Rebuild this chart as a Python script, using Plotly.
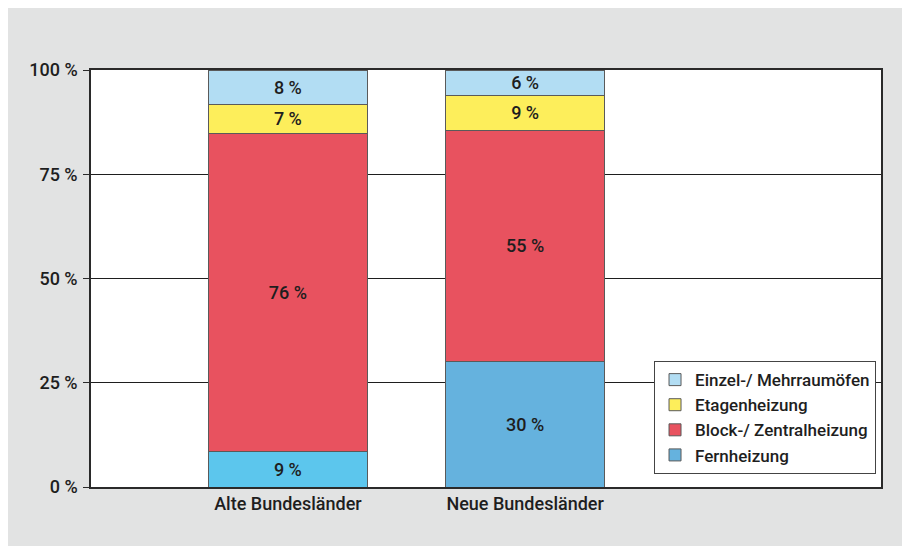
import plotly.graph_objects as go

regionen = ["Alte Bundesländer", "Neue Bundesländer"]

fernheizung = [8.5, 30.0]
block_zentral = [76.2, 55.6]
etagenheizung = [7.1, 8.4]
einzelofen = [8.2, 6.0]

fern_text = ["9 %", "30 %"]
block_text = ["76 %", "55 %"]
etagen_text = ["7 %", "9 %"]
einzel_text = ["8 %", "6 %"]

y_ticks = [0, 25, 50, 75, 100]
y_ticktext = ["0 %", "25 %", "50 %", "75 %", "100 %"]

farben = {
    "fern_alt": "#5cc6ed",
    "fern": "#65b2de",
    "block": "#e8525f",
    "etage": "#fdee5b",
    "einzel": "#b2ddf3",
}

schrift = dict(family="Roboto, Arial, sans-serif", size=18, color="#1e1e1e", weight=500)
linie = dict(color="#5a5a5a", width=1)

fig = go.Figure()

# Fernheizung: Alte Bundesländer in hellerem Blau
fig.add_trace(go.Bar(
    x=regionen[:1], y=fernheizung[:1], text=fern_text[:1],
    name="Fernheizung", legendgroup="fern", showlegend=False,
    marker=dict(color=farben["fern_alt"], line=linie), width=0.67,
))
fig.add_trace(go.Bar(
    x=regionen[1:], y=fernheizung[1:], text=fern_text[1:],
    name="Fernheizung", legendgroup="fern",
    marker=dict(color=farben["fern"], line=linie), width=0.67,
))
fig.add_trace(go.Bar(
    x=regionen, y=block_zentral, text=block_text,
    name="Block-/ Zentralheizung",
    marker=dict(color=farben["block"], line=linie), width=0.67,
))
fig.add_trace(go.Bar(
    x=regionen, y=etagenheizung, text=etagen_text,
    name="Etagenheizung",
    marker=dict(color=farben["etage"], line=linie), width=0.67,
))
fig.add_trace(go.Bar(
    x=regionen, y=einzelofen, text=einzel_text,
    name="Einzel-/ Mehrraumöfen",
    marker=dict(color=farben["einzel"], line=linie), width=0.67,
))

fig.update_traces(
    textposition="inside", insidetextanchor="middle",
    textfont=schrift, constraintext="none", hoverinfo="name+y",
)

# Seite hat 8 px Rand (body margin), daher etwas kleinere Figur
fig.update_layout(
    barmode="stack",
    width=902, height=538,
    margin=dict(l=83, r=29, t=62, b=59),
    paper_bgcolor="#e2e3e3",
    plot_bgcolor="white",
    font=schrift,
    showlegend=True,
    legend=dict(
        traceorder="reversed",
        x=0.9937, xanchor="right", y=0.302, yanchor="top",
        bgcolor="white", bordercolor="#444", borderwidth=1,
        font=dict(schrift, size=17), tracegroupgap=0,
    ),
    xaxis=dict(
        type="category", range=[-0.83, 2.5],
        showgrid=False, showline=True, linecolor="#2a2a2a", linewidth=1.5,
        mirror=True, ticks="", tickfont=schrift,
    ),
    yaxis=dict(
        range=[0, 100], tickvals=y_ticks, ticktext=y_ticktext,
        showgrid=True, gridcolor="#1e1e1e", gridwidth=1,
        showline=True, linecolor="#2a2a2a", linewidth=1.5, mirror=True,
        ticks="outside", ticklen=6, tickcolor="#2a2a2a", tickfont=schrift,
        ticklabelstandoff=2, zeroline=False,
    ),
)

fig.write_html("out.html")
